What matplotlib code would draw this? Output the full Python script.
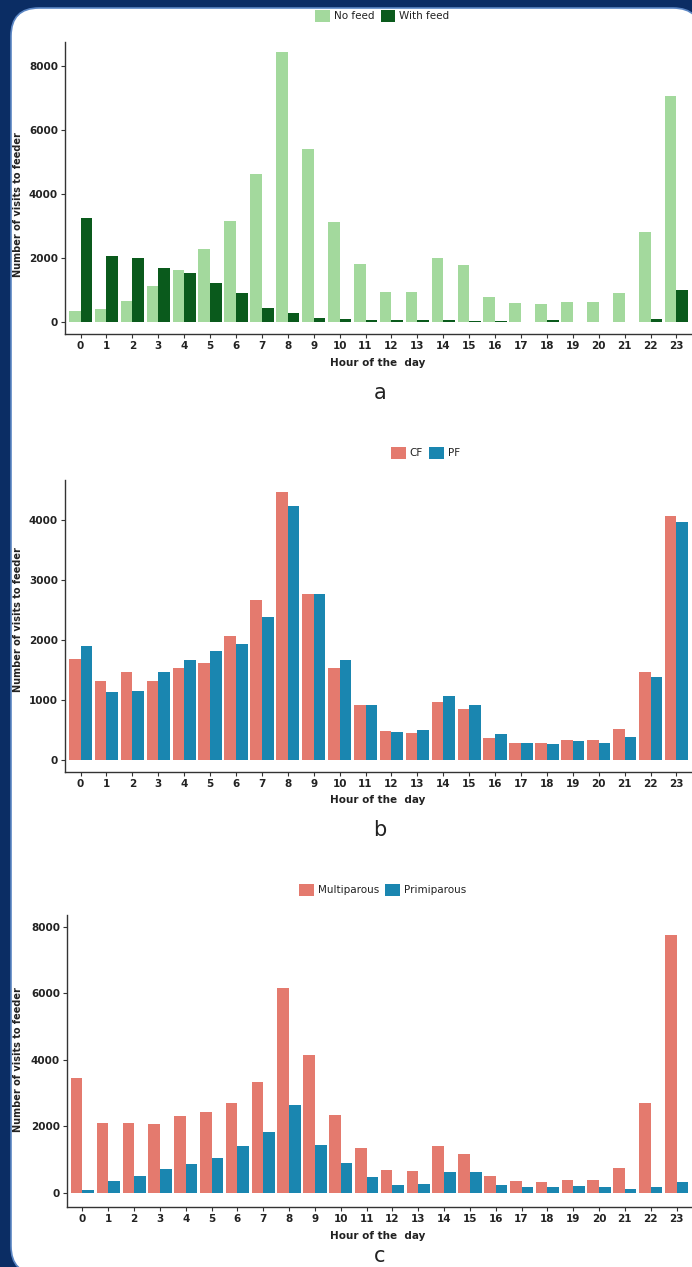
import matplotlib
matplotlib.use("Agg")
import matplotlib.pyplot as plt
import numpy as np
from matplotlib.patches import FancyBboxPatch, Rectangle

hours = list(range(24))
hour_labels = [str(h) for h in hours]

# Panel a
no_feed = [350, 400, 660, 1140, 1640, 2270, 3160, 4630, 8450, 5420, 3140, 1820,
           950, 950, 2000, 1790, 790, 590, 560, 610, 610, 900, 2820, 7050]
with_feed = [3240, 2060, 2000, 1680, 1540, 1220, 900, 450, 290, 130, 80, 50,
             60, 60, 60, 40, 40, 10, 60, 0, 0, 0, 80, 1010]
# Panel b
cf = [1690, 1320, 1460, 1320, 1540, 1620, 2070, 2660, 4460, 2760, 1530, 910,
      480, 455, 970, 855, 360, 280, 280, 330, 330, 510, 1470, 4070]
pf = [1900, 1130, 1150, 1470, 1670, 1820, 1940, 2380, 4230, 2760, 1660, 910,
      470, 500, 1070, 910, 430, 280, 260, 320, 280, 390, 1390, 3970]
# Panel c
multiparous = [3450, 2120, 2120, 2080, 2320, 2450, 2720, 3350, 6150, 4150, 2350, 1350,
               700, 670, 1420, 1180, 500, 350, 320, 400, 400, 750, 2720, 7750]
primiparous = [100, 350, 500, 720, 880, 1050, 1400, 1820, 2650, 1450, 900, 480,
               250, 280, 620, 630, 250, 180, 170, 200, 180, 120, 170, 320]

W, H = 692, 1267
fig = plt.figure(figsize=(W / 100, H / 100), dpi=100)
fig.patch.set_facecolor("#0b2d64")

bg = fig.add_axes([0, 0, 1, 1])
bg.set_xlim(0, W)
bg.set_ylim(H, 0)
bg.axis("off")
bg.add_patch(FancyBboxPatch((11, 8), 690, 1266, boxstyle="round,pad=0,rounding_size=28",
                            facecolor="white", edgecolor="#5b86c4", linewidth=1.2))

def px_axes(l, t, r, b):
    return fig.add_axes([l / W, 1 - b / H, (r - l) / W, (b - t) / H])

def style(ax, ylo, yhi, yticks):
    ax.set_xlim(-0.6, 23.6)
    ax.set_ylim(ylo, yhi)
    ax.set_facecolor("none")
    for s in ["top", "right"]:
        ax.spines[s].set_visible(False)
    for s in ["left", "bottom"]:
        ax.spines[s].set_color("#333333")
        ax.spines[s].set_linewidth(1.0)
    ax.set_xticks(hours)
    ax.set_xticklabels(hour_labels, fontsize=7.5, fontweight="bold", color="#222222")
    ax.set_yticks(yticks)
    ax.set_yticklabels([str(v) for v in yticks], fontsize=7.5, fontweight="bold", color="#222222")
    ax.tick_params(axis="both", length=3, width=0.8, color="#333333", pad=2)

def bars(ax, s1, s2, c1, c2):
    x = np.array(hours)
    w = 0.45
    ax.bar(x - w / 2, s1, width=w, color=c1, linewidth=0)
    ax.bar(x + w / 2, s2, width=w, color=c2, linewidth=0)

def legend(x_left, y, labels, colors):
    handles = [Rectangle((0, 0), 1, 1, facecolor=c, edgecolor="none") for c in colors]
    fig.legend(handles, labels, loc="center left", bbox_to_anchor=(x_left / W, 1 - y / H),
               ncol=len(labels), frameon=False, fontsize=7.5, handlelength=1.4, handleheight=1.3,
               handletextpad=0.4, columnspacing=0.6, borderaxespad=0, borderpad=0,
               labelcolor="#222222")

def texts(ylabel_y, xlabel_y, letter_y, letter):
    fig.text(18 / W, 1 - ylabel_y / H, "Number of visits to feeder", rotation=90,
             ha="center", va="center", fontsize=7, fontweight="bold", color="#222222")
    fig.text(378 / W, 1 - xlabel_y / H, "Hour of the  day", ha="center", va="center",
             fontsize=7.5, fontweight="bold", color="#222222")
    fig.text(380 / W, 1 - letter_y / H, letter, ha="center", va="center",
             fontsize=15, color="#222222")

light_green, dark_green = "#a3d99d", "#0a5a1c"
salmon, teal = "#e47a6e", "#1a86b0"

# Panel a
ax1 = px_axes(65, 42, 692, 334)
bars(ax1, no_feed, with_feed, light_green, dark_green)
style(ax1, -375, 8750, [0, 2000, 4000, 6000, 8000])
legend(315, 16, ["No feed", "With feed"], [light_green, dark_green])
texts(205, 363, 393, "a")

# Panel b
ax2 = px_axes(65, 480, 692, 772)
bars(ax2, cf, pf, salmon, teal)
style(ax2, -200, 4667, [0, 1000, 2000, 3000, 4000])
legend(391, 453, ["CF", "PF"], [salmon, teal])
texts(620, 800, 830, "b")

# Panel c
ax3 = px_axes(67, 915, 692, 1207)
bars(ax3, multiparous, primiparous, salmon, teal)
style(ax3, -421, 8360, [0, 2000, 4000, 6000, 8000])
legend(299, 890, ["Multiparous", "Primiparous"], [salmon, teal])
texts(1060, 1236, 1256, "c")

fig.savefig("out.png", dpi=100, facecolor=fig.get_facecolor())
